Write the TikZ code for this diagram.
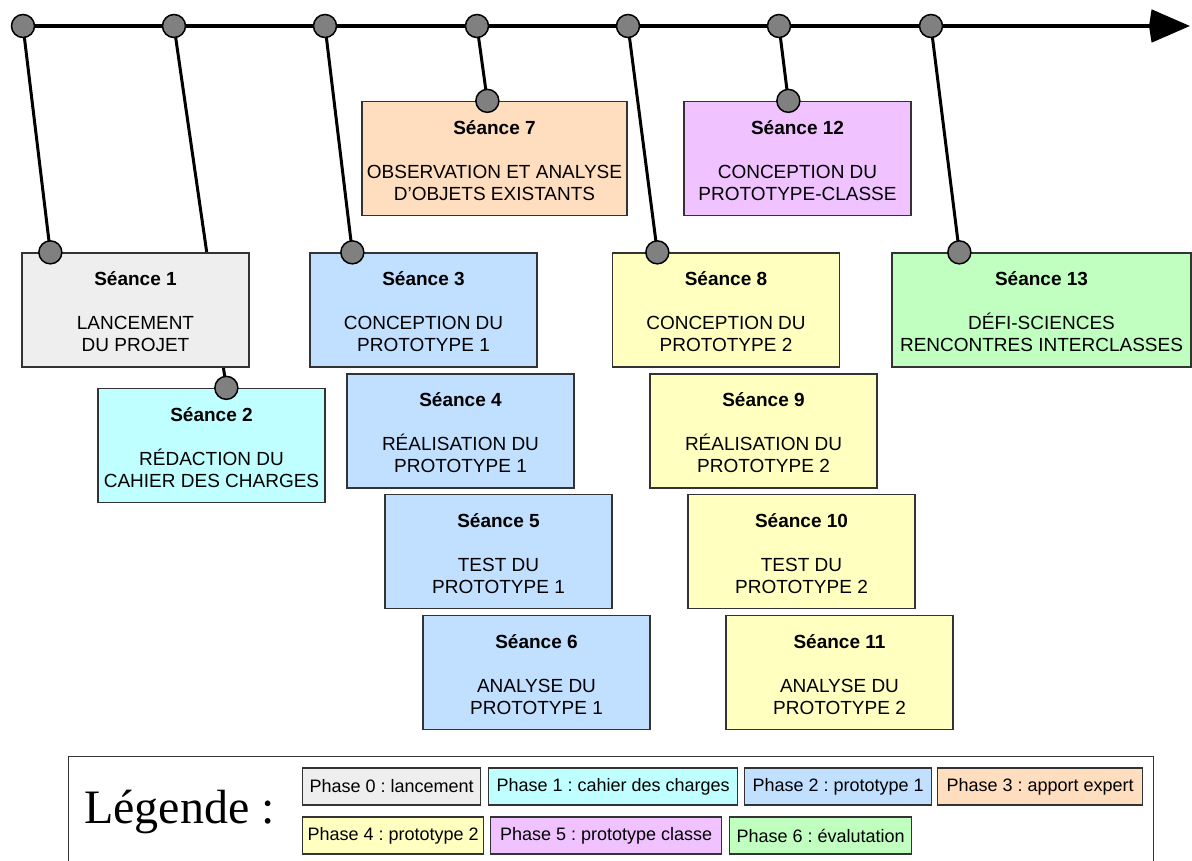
\documentclass[tikz,border=0pt]{standalone}
\usepackage{fontspec}
\setmainfont{Liberation Sans}
\newfontfamily\legfont{Liberation Serif}
\frenchspacing
\usetikzlibrary{arrows.meta}
\pgfdeclarelayer{background}
\pgfsetlayers{background,main}
\definecolor{cadre}{HTML}{333333}
\definecolor{jalongris}{HTML}{808080}
\definecolor{ph0}{HTML}{EEEEEE}
\definecolor{ph1}{HTML}{C0FFFF}
\definecolor{ph2}{HTML}{C1E0FF}
\definecolor{ph3}{HTML}{FFDEBF}
\definecolor{ph4}{HTML}{FFFFC0}
\definecolor{ph5}{HTML}{F0C2FF}
\definecolor{ph6}{HTML}{C0FFC0}
\tikzset{
  seance/.style={draw=cadre, line width=1.3pt, minimum width=227pt, minimum height=114pt,
    inner sep=0pt, align=center, font=\fontsize{19}{22}\selectfont},
  jalon/.style={circle, draw=black, fill=jalongris, line width=1.5pt, minimum size=23pt, inner sep=0pt},
  lien/.style={line width=3pt},
  frise/.style={line width=4pt, -{Stealth[length=38pt,width=32pt,inset=-3pt]}},
  phase/.style={draw=cadre, line width=1.2pt, minimum height=37pt, inner sep=0pt,
    anchor=west, font=\fontsize{18}{20}\selectfont},
}
\newcommand{\titreseance}[1]{\rule{0pt}{18pt}\textbf{Séance #1}}
\begin{document}
\begin{tikzpicture}[x=1pt,y=-1pt]
    \useasboundingbox (0,0) rectangle (1192,861);

    % seances
    \node[seance, fill=ph0] (s1) at (135.5,310) {\titreseance{1}\\[22pt]LANCEMENT\\DU PROJET};
    \node[seance, fill=ph1] (s2) at (211.5,445.5) {\titreseance{2}\\[22pt]RÉDACTION DU\\CAHIER DES CHARGES};
    \node[seance, fill=ph2] (s3) at (423.5,310) {\titreseance{3}\\[22pt]CONCEPTION DU\\PROTOTYPE 1};
    \node[seance, fill=ph2] (s4) at (460.5,431) {\titreseance{4}\\[22pt]RÉALISATION DU\\PROTOTYPE 1};
    \node[seance, fill=ph2] (s5) at (498.5,551.5) {\titreseance{5}\\[22pt]TEST DU\\PROTOTYPE 1};
    \node[seance, fill=ph2] (s6) at (536.5,672.5) {\titreseance{6}\\[22pt]ANALYSE DU\\PROTOTYPE 1};
    \node[seance, fill=ph3, minimum width=265pt] (s7) at (494.5,158.5) {\titreseance{7}\\[22pt]OBSERVATION ET ANALYSE\\D’OBJETS EXISTANTS};
    \node[seance, fill=ph4] (s8) at (726,310) {\titreseance{8}\\[22pt]CONCEPTION DU\\PROTOTYPE 2};
    \node[seance, fill=ph4] (s9) at (763.5,431) {\titreseance{9}\\[22pt]RÉALISATION DU\\PROTOTYPE 2};
    \node[seance, fill=ph4] (s10) at (801.5,551.5) {\titreseance{10}\\[22pt]TEST DU\\PROTOTYPE 2};
    \node[seance, fill=ph4] (s11) at (839.5,672.5) {\titreseance{11}\\[22pt]ANALYSE DU\\PROTOTYPE 2};
    \node[seance, fill=ph5] (s12) at (797.5,158.5) {\titreseance{12}\\[22pt]CONCEPTION DU\\PROTOTYPE-CLASSE};
    \node[seance, fill=ph6, minimum width=299pt] (s13) at (1041.5,310) {\titreseance{13}\\[22pt]DÉFI-SCIENCES\\RENCONTRES INTERCLASSES};

    % jalons sur la frise et sur les seances
    \foreach \x/\n in {23/1,174/2,325/3,477/7,628/8,779/12,931/13}
        \node[jalon] (t\n) at (\x,26) {};
    \node[jalon] (d1) at ([xshift=29pt]s1.north west) {};
    \node[jalon] (d2) at ([xshift=129pt]s2.north west) {};
    \node[jalon] (d3) at ([xshift=43pt]s3.north west) {};
    \node[jalon] (d7) at ([xshift=126pt]s7.north west) {};
    \node[jalon] (d8) at ([xshift=45.5pt]s8.north west) {};
    \node[jalon] (d12) at ([xshift=105pt]s12.north west) {};
    \node[jalon] (d13) at ([xshift=68pt]s13.north west) {};
    \coordinate (fin) at (1190,26);

    \begin{pgfonlayer}{background}
        \draw[frise] (t1.center) -- (fin);
        \foreach \n in {1,2,3,7,8,12,13}
            \draw[lien] (t\n.center) -- (d\n.center);
    \end{pgfonlayer}

    % legende
    \node[draw=cadre, line width=1.3pt, minimum width=1085pt, minimum height=140pt,
        inner sep=0pt, anchor=north west] (legende) at (68,756) {};
    \node[anchor=base west, inner sep=0pt, font=\legfont\fontsize{48}{50}\selectfont] (titre) at (84,823) {Légende :};
    \node[phase, fill=ph0, minimum width=178pt] (p0) at (302,786.5) {Phase 0 : lancement};
    \node[phase, fill=ph1, minimum width=249pt] (p1) at (488,786.5) {Phase 1 : cahier des charges};
    \node[phase, fill=ph2, minimum width=187pt] (p2) at (744,786.5) {Phase 2 : prototype 1};
    \node[phase, fill=ph3, minimum width=205pt] (p3) at (937,786.5) {Phase 3 : apport expert};
    \node[phase, fill=ph4, minimum width=181pt] (p4) at (302,835.5) {Phase 4 : prototype 2};
    \node[phase, fill=ph5, minimum width=231pt] (p5) at (490,835.5) {Phase 5 : prototype classe};
    \node[phase, fill=ph6, minimum width=182pt] (p6) at (729,835.5) {Phase 6 : évalutation};
\end{tikzpicture}
\end{document}
